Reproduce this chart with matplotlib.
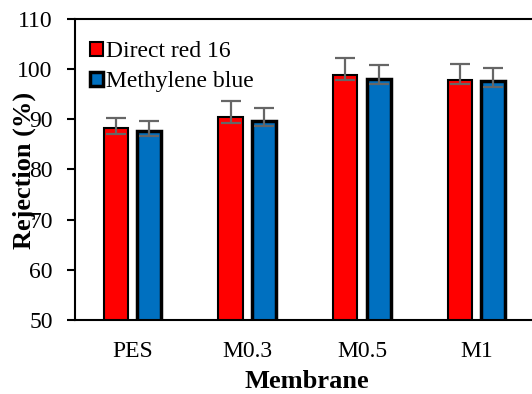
import matplotlib.pyplot as plt
import numpy as np

membranes = ["PES", "M0.3", "M0.5", "M1"]
direct_red = [88.2, 90.4, 98.8, 97.8]
red_err_low = [1.1, 1.1, 0.9, 0.8]
red_err_high = [2.1, 3.3, 3.4, 3.3]
methylene_blue = [87.6, 89.6, 98.0, 97.6]
blue_err_low = [1.0, 0.9, 1.0, 1.1]
blue_err_high = [2.0, 2.6, 2.8, 2.6]

plt.rcParams['font.family'] = ['Liberation Serif', 'DejaVu Serif']

fig = plt.figure(figsize=(5.32, 3.94), dpi=100)
ax = fig.add_axes([0.141, 0.188, 0.863, 0.764])

x = np.arange(len(membranes))
w = 0.21
err_kw = dict(ecolor="#666666", elinewidth=1.6, capsize=7, capthick=1.6)
ax.bar(x - 0.145, direct_red, w, color="#FF0000", edgecolor="black",
       linewidth=1.5, yerr=[red_err_low, red_err_high], error_kw=err_kw,
       label="Direct red 16", zorder=2)
ax.bar(x + 0.145, methylene_blue, w, color="#0070C0", edgecolor="black",
       linewidth=2.5, yerr=[blue_err_low, blue_err_high], error_kw=err_kw,
       label="Methylene blue", zorder=2)

ax.set_xlim(-0.5, 3.5)
ax.set_ylim(50, 110)
ax.set_yticks(range(50, 111, 10))
ax.set_xticks(x)
ax.set_xticklabels(membranes)
ax.tick_params(axis="x", length=0, pad=15, labelsize=17)
ax.tick_params(axis="y", length=6, width=1.5, pad=10, labelsize=17)
for s in ax.spines.values():
    s.set_linewidth(1.5)
ax.spines["right"].set_visible(False)

# the y label sits over the tick labels, as in the original
ax.set_ylabel("Rejection (%)", fontsize=19, fontweight="bold")
ax.yaxis.label.set_va("center")
ax.yaxis.set_label_coords(-0.111, 0.498)
ax.set_xlabel("Membrane", fontsize=19, fontweight="bold")
ax.xaxis.label.set_va("center")
ax.xaxis.set_label_coords(0.504, -0.205)

ax.legend(loc="upper left", frameon=False, fontsize=17, handlelength=0.55,
          handleheight=0.55, handletextpad=0.15, labelspacing=0.4,
          borderaxespad=0.0, bbox_to_anchor=(0.012, 0.958))

fig.savefig("out.png")
